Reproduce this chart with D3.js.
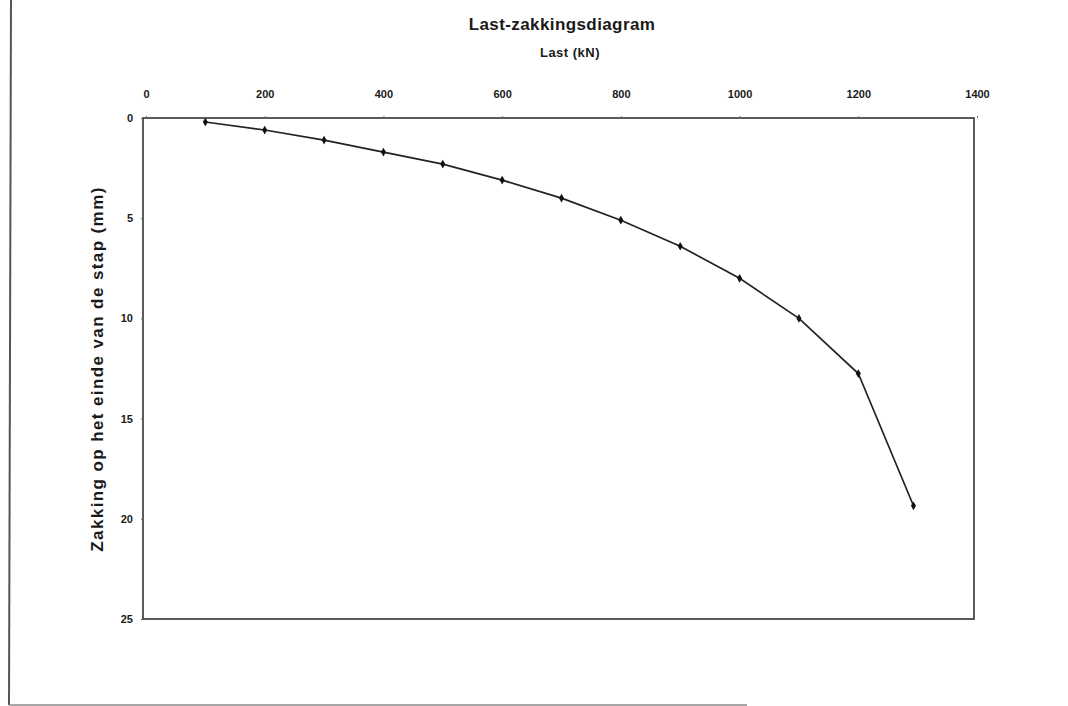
<!DOCTYPE html>
<html>
<head>
<meta charset="utf-8">
<script src="https://cdn.jsdelivr.net/npm/d3@7"></script>
<style>
  body { margin: 0; background: #fff; }
  text { font-family: "Liberation Sans", Arial, sans-serif; fill: #1a1a1a; }
</style>
</head>
<body>
<div id="app"></div>
<script>
// Data
const load = [100, 200, 300, 400, 500, 600, 700, 800, 900, 1000, 1100, 1200, 1293];
const settlement = [0.2, 0.6, 1.1, 1.7, 2.3, 3.1, 4.0, 5.1, 6.4, 8.0, 10.0, 12.75, 19.35];
const xTicks = [0, 200, 400, 600, 800, 1000, 1200, 1400];
const yTicks = [0, 5, 10, 15, 20, 25];

const width = 1068;
const height = 706;
const plot = { left: 143, right: 974, top: 118, bottom: 619 };

const svg = d3
  .select("#app")
  .append("svg")
  .attr("width", width)
  .attr("height", height);

// Page frame from the scan
svg.append("line")
  .attr("x1", 11).attr("y1", 0).attr("x2", 9).attr("y2", 705)
  .attr("stroke", "#555").attr("stroke-width", 2);
svg.append("line")
  .attr("x1", 9).attr("y1", 705).attr("x2", 747).attr("y2", 705)
  .attr("stroke", "#888").attr("stroke-width", 1.5);

// Scales
const xScale = d3.scaleLinear().domain([0, 1400]).range([plot.left + 3, plot.right + 3]);
const yScale = d3.scaleLinear().domain([0, 25]).range([plot.top, plot.bottom]);

// Plot border
svg.append("rect")
  .attr("x", plot.left)
  .attr("y", plot.top)
  .attr("width", plot.right - plot.left)
  .attr("height", plot.bottom - plot.top)
  .attr("fill", "none")
  .attr("stroke", "#333")
  .attr("stroke-width", 1.6);

// Axes
const xAxis = d3.axisTop(xScale).tickValues(xTicks).tickFormat(d3.format("d")).tickSize(2).tickPadding(18);
const yAxis = d3.axisLeft(yScale).tickValues(yTicks).tickFormat(d3.format("d")).tickSize(2).tickPadding(8);

const gx = svg.append("g")
  .attr("transform", `translate(0, ${plot.top})`)
  .call(xAxis);
const gy = svg.append("g")
  .attr("transform", `translate(${plot.left}, 0)`)
  .call(yAxis);

[gx, gy].forEach(g => {
  g.select(".domain").remove();
  g.selectAll(".tick line").attr("stroke", "#666");
  g.selectAll(".tick text")
    .attr("font-size", 11)
    .attr("font-weight", "bold")
    .style("font-family", "'Liberation Sans', Arial, sans-serif")
    .attr("fill", "#222");
});

// Line
const data = load.map((d, i) => [d, settlement[i]]);
svg.append("path")
  .datum(data)
  .attr("fill", "none")
  .attr("stroke", "#222")
  .attr("stroke-width", 1.7)
  .attr("d", d3.line().x(d => xScale(d[0])).y(d => yScale(d[1])));

// Markers
svg.selectAll(".pt")
  .data(data)
  .enter()
  .append("path")
  .attr("class", "pt")
  .attr("transform", d => `translate(${xScale(d[0])}, ${yScale(d[1])})`)
  .attr("d", d3.symbol().type(d3.symbolDiamond).size(22))
  .attr("fill", "#111");

// Titles
svg.append("text")
  .text("Last-zakkingsdiagram")
  .attr("x", 562)
  .attr("y", 30)
  .attr("text-anchor", "middle")
  .attr("font-size", 17)
  .attr("letter-spacing", 0.4)
  .attr("font-weight", "bold");

svg.append("text")
  .text("Last (kN)")
  .attr("x", 570)
  .attr("y", 57)
  .attr("text-anchor", "middle")
  .attr("font-size", 13)
  .attr("letter-spacing", 0.5)
  .attr("font-weight", "bold");

svg.append("text")
  .text("Zakking op het einde van de stap (mm)")
  .attr("text-anchor", "middle")
  .attr("transform", "translate(103, 369) rotate(-90)")
  .attr("font-size", 17)
  .attr("letter-spacing", 1.4)
  .attr("font-weight", "bold");
</script>
</body>
</html>
